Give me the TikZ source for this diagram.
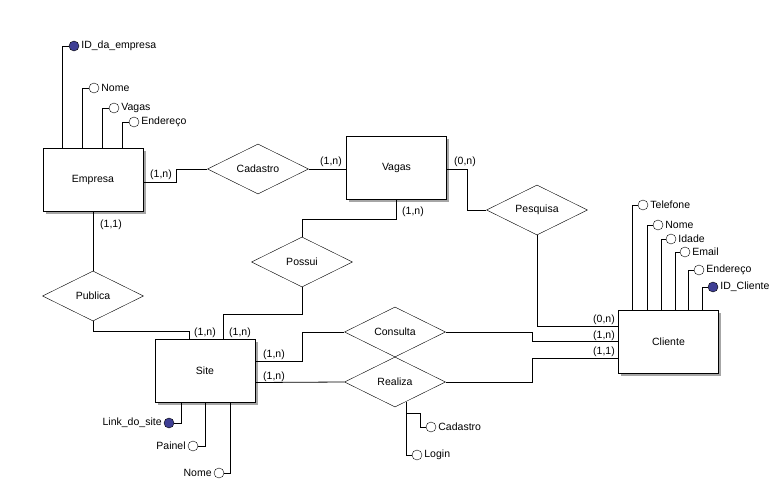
\documentclass[tikz,border=0pt]{standalone}
\usepackage{fontspec}
\setmainfont{Liberation Sans}
\usetikzlibrary{shapes.geometric,shadows,calc}
\definecolor{keyfill}{RGB}{62,62,148}
\tikzset{
  entity/.style={draw, fill=white, minimum width=100pt, minimum height=63pt, inner sep=0pt,
    drop shadow={shadow xshift=2.5pt, shadow yshift=-2.5pt, fill=gray!70, opacity=1}},
  rel/.style={draw, fill=white, diamond, aspect=2, minimum width=101pt, minimum height=50pt, inner sep=0pt},
  attr/.style={draw, circle, fill=white, minimum size=10pt, inner sep=0pt},
  keyattr/.style={attr, fill=keyfill},
  card/.style={inner sep=0pt},
  every node/.style={font=\fontsize{10.5}{12}\selectfont},
  link/.style={draw, line width=0.8pt}
}
\begin{document}
\begin{tikzpicture}[x=1pt,y=-1pt]
\useasboundingbox (0,0) rectangle (784,487);
\fill[white] (0,0) rectangle (784,487);

% entities
\node[entity] (emp) at (93,180) {Empresa};
\node[entity] (vag) at (396.5,168) {Vagas};
\node[entity] (cli) at (668.5,341.5) {Cliente};
\node[entity] (site) at (205,370.5) {Site};

% relationships
\node[rel] (cad) at (258,169) {Cadastro};
\node[rel] (pes) at (537,210) {Pesquisa};
\node[rel] (pub) at (93,296) {Publica};
\node[rel] (pos) at (302,262) {Possui};
\node[rel] (con) at (395,332) {Consulta};
\node[rel] (rea) at (395,382) {Realiza};

% attributes of Empresa
\node[keyattr, label={[inner sep=2pt]right:ID\_da\_empresa}] (empid) at (74,46) {};
\node[attr, label={[inner sep=2pt]right:Nome}] (empnome) at (94,88) {};
\node[attr, label={[inner sep=2pt]right:Vagas}] (empvagas) at (114,108) {};
\node[attr, label={[inner sep=2pt]right:Endereço}] (empend) at (134,122) {};
\draw[link] ([xshift=20pt]emp.north west) |- (empid.west);
\draw[link] ([xshift=40pt]emp.north west) |- (empnome.west);
\draw[link] ([xshift=60pt]emp.north west) |- (empvagas.west);
\draw[link] ([xshift=80pt]emp.north west) |- (empend.west);

% attributes of Cliente
\node[attr, label={[inner sep=2pt]right:Telefone}] (clitel) at (643,205) {};
\node[attr, label={[inner sep=2pt]right:Nome}] (clinome) at (658,225) {};
\node[attr, label={[inner sep=2pt]right:Idade}] (cliidade) at (671,239) {};
\node[attr, label={[inner sep=2pt]right:Email}] (cliemail) at (685,252) {};
\node[attr, label={[inner sep=2pt]right:Endereço}] (cliend) at (699,270) {};
\node[keyattr, label={[inner sep=2pt]right:ID\_Cliente}] (cliid) at (713,287) {};
\draw[link] ([xshift=14pt]cli.north west) |- (clitel.west);
\draw[link] ([xshift=29pt]cli.north west) |- (clinome.west);
\draw[link] ([xshift=43pt]cli.north west) |- (cliidade.west);
\draw[link] ([xshift=57pt]cli.north west) |- (cliemail.west);
\draw[link] ([xshift=70pt]cli.north west) |- (cliend.west);
\draw[link] ([xshift=84pt]cli.north west) |- (cliid.west);

% attributes of Site
\node[keyattr, label={[inner sep=2pt]left:Link\_do\_site}] (sitelink) at (169,423) {};
\node[attr, label={[inner sep=2pt]left:Painel}] (sitepainel) at (193,446) {};
\node[attr, label={[inner sep=2pt]left:Nome}] (sitenome) at (219,473) {};
\draw[link] ([xshift=-24pt]site.south) |- (sitelink.east);
\draw[link] (site.south) |- (sitepainel.east);
\draw[link] ([xshift=25pt]site.south) |- (sitenome.east);

% attributes of Realiza
\node[attr, label={[inner sep=2pt]right:Cadastro}] (reacad) at (431,427) {};
\node[attr, label={[inner sep=2pt]right:Login}] (realogin) at (417,455) {};
\coordinate (reafoot) at ($(rea.south)!0.22!(rea.east)$);
\coordinate (reabranch) at (406,413);
\draw[link] (reafoot) |- (realogin.west);
\draw[link] (reabranch) -- ++(14,0) |- (reacad.west);

% connectors
\draw[link] ([yshift=-2pt]emp.east) -- ++(33,0) |- (cad.west);
\draw[link] (cad.east) -- (cad.east -| vag.west);
\draw[link] ([yshift=-1pt]vag.east) -- ++(21,0) |- (pes.west);
\draw[link] (pes.south) |- ([yshift=15.5pt]cli.west);
\draw[link] (vag.south) -- ++(0,20) -| (pos.north);
\draw[link] (pos.south) -- ++(0,27) -| ([xshift=18pt]site.north);
\draw[link] (emp.south) -- (pub.north);
\draw[link] (pub.south) -- ++(0,10) -| ([xshift=-16pt]site.north);
\draw[link] ([yshift=9.5pt]site.east) -- ++(47,0) |- (con.west);
\draw[link] ([yshift=-12pt]site.east) -- (rea.west);
\draw[link] (con.east) -- ++(87,0) |- (cli.west);
\draw[link] (rea.east) -- ++(87,0) |- ([yshift=-16.5pt]cli.west);

% cardinalities
\node[card] (c1) at (161,175) {(1,n)};
\node[card] (c2) at (331,162) {(1,n)};
\node[card] (c3) at (465,162) {(0,n)};
\node[card] (c4) at (413,212) {(1,n)};
\node[card] (c5) at (111,225) {(1,1)};
\node[card] (c6) at (205,333) {(1,n)};
\node[card] (c7) at (240,333) {(1,n)};
\node[card] (c8) at (274,355) {(1,n)};
\node[card] (c9) at (274,377) {(1,n)};
\node[card] (c10) at (604,320) {(0,n)};
\node[card] (c11) at (604,336) {(1,n)};
\node[card] (c12) at (604,352) {(1,1)};
\end{tikzpicture}
\end{document}
